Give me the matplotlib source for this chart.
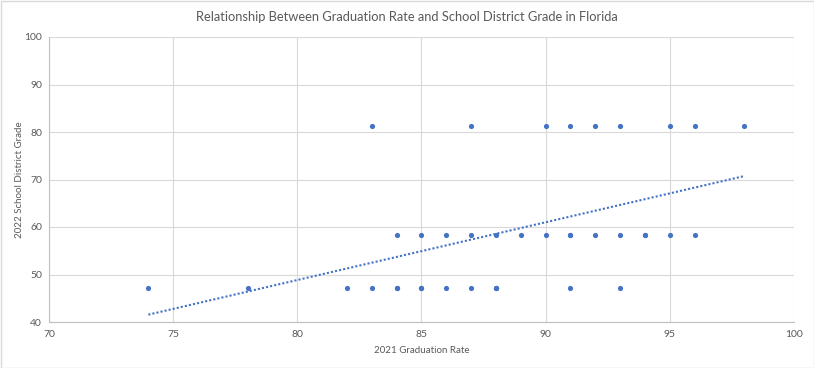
import numpy as np
import matplotlib
matplotlib.use("Agg")
from matplotlib import pyplot as plt

# 2021 graduation rate vs 2022 school district grade (overlapping districts repeated)
grad_top = [83, 87, 90, 91, 92, 93, 95, 96, 98]
grade_top = [81.2] * len(grad_top)
grad_mid = [84, 85, 86, 87, 88, 89, 90, 91, 91, 92, 93, 94, 94, 95, 96]
grade_mid = [58.3] * len(grad_mid)
grad_low = [74, 78, 82, 83, 84, 84, 85, 85, 86, 87, 88, 88, 88, 91, 93]
grade_low = [47.2] * len(grad_low)

x = np.array(grad_top + grad_mid + grad_low, dtype=float)
y = np.array(grade_top + grade_mid + grade_low, dtype=float)

plt.rcParams['font.family'] = ['Lato', 'DejaVu Sans']
blue = '#4472C4'
grey = '#595959'

fig = plt.figure(figsize=(8.14, 3.68), dpi=100)
ax = fig.add_axes([49 / 814, 1 - 322 / 368, (794 - 49) / 814, (322 - 37) / 368])

ax.scatter(x, y, s=14, color=blue, zorder=3, linewidths=0)

# linear trendline
k, b = np.polyfit(x, y, 1)
xs = np.array([x.min(), x.max()])
ax.plot(xs, k * xs + b, color=blue, linestyle=(0, (1, 1)), linewidth=1.5, zorder=2)

ax.set_xlim(70, 100)
ax.set_ylim(40, 100)
ax.set_xticks(np.arange(70, 101, 5))
ax.set_yticks(np.arange(40, 101, 10))
ax.grid(True, color='#d9d9d9', linewidth=0.8)
ax.set_axisbelow(True)
for s in ['top', 'right']:
    ax.spines[s].set_visible(False)
for s in ['left', 'bottom']:
    ax.spines[s].set_color('#bfbfbf')
    ax.spines[s].set_linewidth(0.8)
ax.tick_params(axis='x', length=0, labelsize=7.5, labelcolor=grey, pad=6)
ax.tick_params(axis='y', length=0, labelsize=7.5, labelcolor=grey, pad=5)

ax.set_xlabel('2021 Graduation Rate', fontsize=7, color=grey, labelpad=5)
ax.set_ylabel('2022 School District Grade', fontsize=7, color=grey, labelpad=0)
fig.text(0.5, 1 - 17 / 368, 'Relationship Between Graduation Rate and School District Grade in Florida',
         ha='center', va='center', fontsize=9.3, color=grey)

border = plt.Rectangle((0.5 / 814, 0.5 / 368), 1 - 1 / 814, 1 - 1 / 368, transform=fig.transFigure,
                       fill=False, edgecolor='#d9d9d9', linewidth=1)
fig.patches.append(border)

fig.savefig('out.png', dpi=100)
